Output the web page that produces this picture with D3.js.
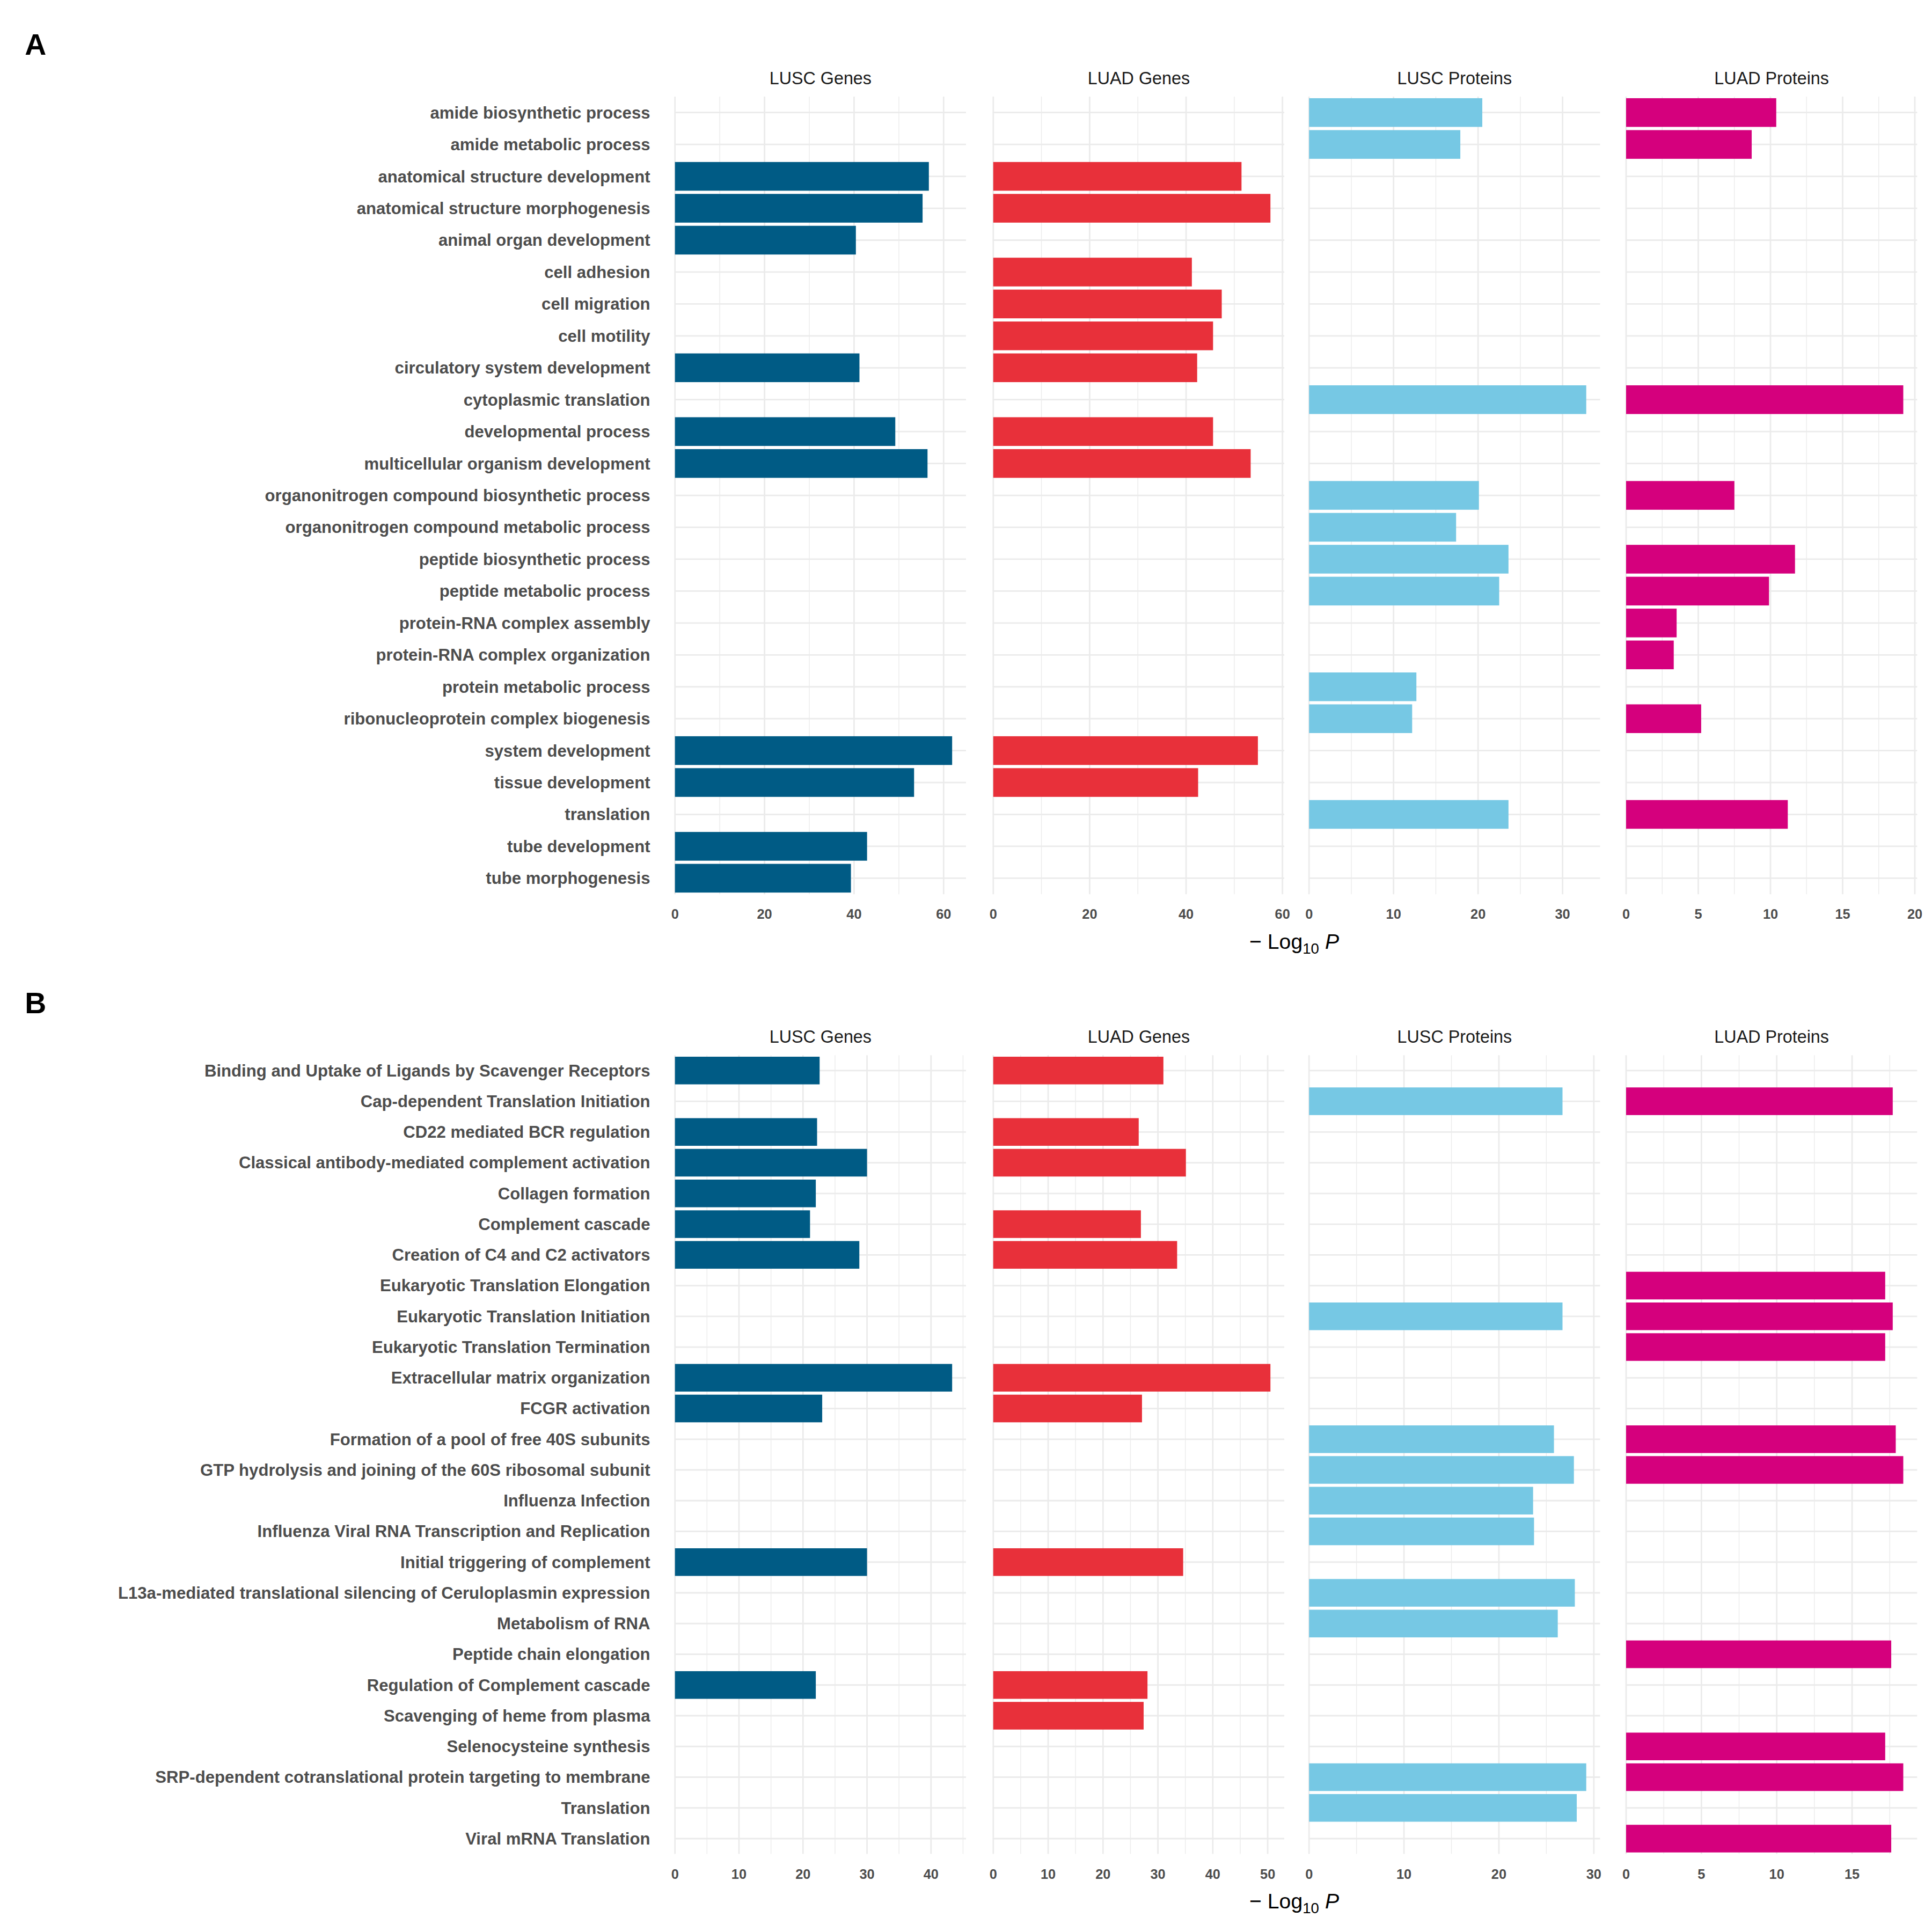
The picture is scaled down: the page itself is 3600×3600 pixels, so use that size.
<!DOCTYPE html>
<html>
<head>
<meta charset="utf-8">
<script src="https://cdn.jsdelivr.net/npm/d3@7"></script>
<style>
  body { margin: 0; background: #fff; }
  text { font-family: "Liberation Sans", Arial, sans-serif; }
</style>
</head>
<body>
<div id="chart"></div>
<script>
// ---- data ----
var seriesNames = ["LUSC Genes", "LUAD Genes", "LUSC Proteins", "LUAD Proteins"];
var seriesColors = ["#005b85", "#e8303a", "#76c8e4", "#d5007d"];

var termsA = ["amide biosynthetic process", "amide metabolic process", "anatomical structure development",
  "anatomical structure morphogenesis", "animal organ development", "cell adhesion", "cell migration",
  "cell motility", "circulatory system development", "cytoplasmic translation", "developmental process",
  "multicellular organism development", "organonitrogen compound biosynthetic process",
  "organonitrogen compound metabolic process", "peptide biosynthetic process", "peptide metabolic process",
  "protein-RNA complex assembly", "protein-RNA complex organization", "protein metabolic process",
  "ribonucleoprotein complex biogenesis", "system development", "tissue development", "translation",
  "tube development", "tube morphogenesis"];
var luscGenesA = [null, null, 56.7, 55.3, 40.4, null, null, null, 41.2, null, 49.2, 56.4, null, null, null, null, null, null, null, null, 61.9, 53.4, null, 42.9, 39.3];
var luadGenesA = [null, null, 51.5, 57.5, null, 41.2, 47.4, 45.6, 42.3, null, 45.6, 53.4, null, null, null, null, null, null, null, null, 54.9, 42.5, null, null, null];
var luscProtA = [20.5, 17.9, null, null, null, null, null, null, null, 32.8, null, null, 20.1, 17.4, 23.6, 22.5, null, null, 12.7, 12.2, null, null, 23.6, null, null];
var luadProtA = [10.4, 8.7, null, null, null, null, null, null, null, 19.2, null, null, 7.5, null, 11.7, 9.9, 3.5, 3.3, null, 5.2, null, null, 11.2, null, null];
var ticksA = [[0, 20, 40, 60], [0, 20, 40, 60], [0, 10, 20, 30], [0, 5, 10, 15, 20]];

var termsB = ["Binding and Uptake of Ligands by Scavenger Receptors", "Cap-dependent Translation Initiation",
  "CD22 mediated BCR regulation", "Classical antibody-mediated complement activation", "Collagen formation",
  "Complement cascade", "Creation of C4 and C2 activators", "Eukaryotic Translation Elongation",
  "Eukaryotic Translation Initiation", "Eukaryotic Translation Termination", "Extracellular matrix organization",
  "FCGR activation", "Formation of a pool of free 40S subunits", "GTP hydrolysis and joining of the 60S ribosomal subunit",
  "Influenza Infection", "Influenza Viral RNA Transcription and Replication", "Initial triggering of complement",
  "L13a-mediated translational silencing of Ceruloplasmin expression", "Metabolism of RNA", "Peptide chain elongation",
  "Regulation of Complement cascade", "Scavenging of heme from plasma", "Selenocysteine synthesis",
  "SRP-dependent cotranslational protein targeting to membrane", "Translation", "Viral mRNA Translation"];
var luscGenesB = [22.6, null, 22.2, 30.0, 22.0, 21.1, 28.8, null, null, null, 43.3, 23.0, null, null, null, null, 30.0, null, null, null, 22.0, null, null, null, null, null];
var luadGenesB = [31.0, null, 26.5, 35.1, null, 26.9, 33.5, null, null, null, 50.5, 27.1, null, null, null, null, 34.6, null, null, null, 28.1, 27.4, null, null, null, null];
var luscProtB = [null, 26.7, null, null, null, null, null, null, 26.7, null, null, null, 25.8, 27.9, 23.6, 23.7, null, 28.0, 26.2, null, null, null, null, 29.2, 28.2, null];
var luadProtB = [null, 17.7, null, null, null, null, null, 17.2, 17.7, 17.2, null, null, 17.9, 18.4, null, null, null, null, null, 17.6, null, null, 17.2, 18.4, null, 17.6];
var ticksB = [[0, 10, 20, 30, 40], [0, 10, 20, 30, 40, 50], [0, 10, 20, 30], [0, 5, 10, 15]];

// ---- layout (in 1560 units, scaled to 3600) ----
var W = 1560;
var svg = d3.select("#chart").append("svg")
  .attr("width", 3600).attr("height", 3600)
  .attr("viewBox", "0 0 " + W + " " + W);
svg.append("rect").attr("width", W).attr("height", W).attr("fill", "white");

var panelLeft = [545, 802, 1057, 1313];
var panelW = 235;

function drawBlock(letter, top, bottom, terms, values, ticks) {
  svg.append("text").attr("x", 20).attr("y", top - 34).attr("font-size", 24)
    .attr("font-weight", "bold").attr("fill", "#000").text(letter);

  var y = d3.scaleBand().domain(terms).range([top, bottom]).paddingInner(0.1).paddingOuter(0.05);
  var step = y.step();

  // row labels
  svg.append("g").selectAll("text").data(terms).enter().append("text")
    .attr("x", 525).attr("y", function(d) { return y(d) + y.bandwidth() / 2; })
    .attr("dy", "0.35em").attr("text-anchor", "end").attr("font-size", 13.5)
    .attr("font-weight", "bold").attr("fill", "#4d4d4d").text(function(d) { return d; });

  values.forEach(function(vals, i) {
    var max = d3.max(vals);
    var x = d3.scaleLinear().domain([0, max * 1.05]).range([panelLeft[i], panelLeft[i] + panelW]);
    var g = svg.append("g");
    var tk = ticks[i];
    var tstep = tk[1] - tk[0];
    var minors = tk.map(function(t) { return t + tstep / 2; })
      .filter(function(t) { return t <= max * 1.05; });

    // grid
    g.selectAll(".minor").data(minors).enter().append("line")
      .attr("x1", x).attr("x2", x).attr("y1", top).attr("y2", bottom)
      .attr("stroke", "#ebebeb").attr("stroke-width", 0.6);
    g.selectAll(".major").data(tk).enter().append("line")
      .attr("x1", x).attr("x2", x).attr("y1", top).attr("y2", bottom)
      .attr("stroke", "#ebebeb").attr("stroke-width", 1.2);
    g.selectAll(".hline").data(terms).enter().append("line")
      .attr("x1", panelLeft[i]).attr("x2", panelLeft[i] + panelW)
      .attr("y1", function(d) { return y(d) + y.bandwidth() / 2; })
      .attr("y2", function(d) { return y(d) + y.bandwidth() / 2; })
      .attr("stroke", "#ebebeb").attr("stroke-width", 1.2);

    // bars
    var rows = terms.map(function(t, j) { return {term: t, v: vals[j]}; })
      .filter(function(d) { return d.v !== null; });
    g.selectAll("rect").data(rows).enter().append("rect")
      .attr("x", x(0)).attr("y", function(d) { return y(d.term); })
      .attr("width", function(d) { return x(d.v) - x(0); })
      .attr("height", y.bandwidth()).attr("fill", seriesColors[i]);

    // ticks
    g.selectAll(".tl").data(tk).enter().append("text")
      .attr("x", x).attr("y", bottom + 20).attr("text-anchor", "middle")
      .attr("font-size", 11).attr("font-weight", "bold").attr("fill", "#4d4d4d")
      .text(function(d) { return d; });

    // strip
    g.append("text").attr("x", panelLeft[i] + panelW / 2).attr("y", top - 10)
      .attr("text-anchor", "middle").attr("font-size", 14).attr("fill", "#1a1a1a")
      .text(seriesNames[i]);
  });

  var t = svg.append("text").attr("x", 1045).attr("y", bottom + 44)
    .attr("text-anchor", "middle").attr("font-size", 17).attr("fill", "#000");
  t.append("tspan").text("\u2212 Log");
  t.append("tspan").attr("font-size", 12).attr("dy", 4).text("10");
  t.append("tspan").attr("dy", -4).text(" ");
  t.append("tspan").attr("font-style", "italic").text("P");
}

drawBlock("A", 78, 722, termsA, [luscGenesA, luadGenesA, luscProtA, luadProtA], ticksA);
drawBlock("B", 852, 1497, termsB, [luscGenesB, luadGenesB, luscProtB, luadProtB], ticksB);
</script>
</body>
</html>
